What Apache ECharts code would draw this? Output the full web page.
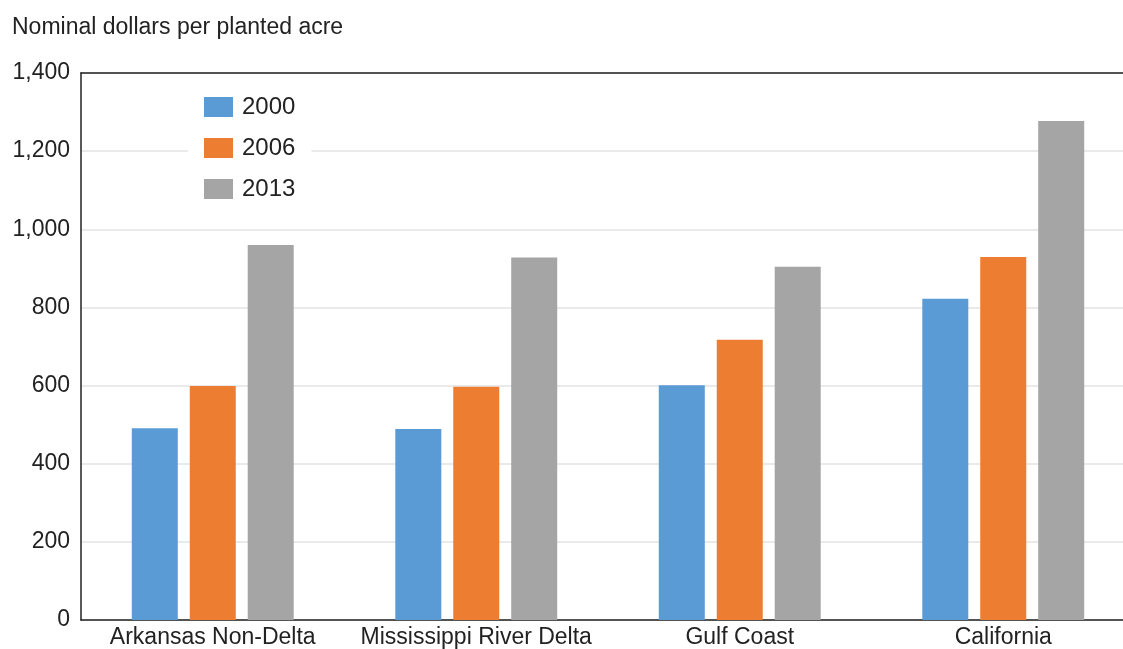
<!DOCTYPE html>
<html><head><meta charset="utf-8">
<script src="https://cdn.jsdelivr.net/npm/echarts@6/dist/echarts.min.js"></script>
<style>html,body{margin:0;padding:0;background:#fff;overflow:hidden;width:1123px;height:649px}#c{width:1135px;height:649px}</style>
</head><body><div id="c"></div>
<script>
var categories = ['Arkansas Non-Delta', 'Mississippi River Delta', 'Gulf Coast', 'California'];
var years = ['2000', '2006', '2013'];
var values2000 = [491, 489, 601, 822];
var values2006 = [599, 597, 717, 929];
var values2013 = [960, 928, 904, 1277];
var yTicks = [0, 200, 400, 600, 800, 1000, 1200, 1400];
var colors = ['#5B9BD5', '#ED7D31', '#A5A5A5'];
var font = 'Liberation Sans, Arial, sans-serif';

var chart = echarts.init(document.getElementById('c'));
var seriesData = [values2000, values2006, values2013];
chart.setOption({
  animation: false,
  color: colors,
  title: {
    text: 'Nominal dollars per planted acre',
    left: 7, top: 11,
    textStyle: {fontFamily: font, fontSize: 23, fontWeight: 'normal', color: '#222'}
  },
  legend: {
    orient: 'vertical',
    left: 188, top: 86,
    padding: [9, 16, 9, 16],
    itemWidth: 29, itemHeight: 20, itemGap: 17,
    backgroundColor: '#fff',
    icon: 'rect',
    textStyle: {fontFamily: font, fontSize: 24, color: '#222', padding: [2, 0, 0, 4]},
    data: years
  },
  grid: {left: 81, right: 0, top: 73, bottom: 29, containLabel: false},
  xAxis: [{
    type: 'category',
    data: categories,
    axisLine: {show: true, lineStyle: {color: '#222', width: 1.5}},
    axisTick: {show: false},
    axisLabel: {fontFamily: font, fontSize: 23, color: '#222', margin: 6, interval: 0}
  }, {
    type: 'category',
    position: 'top',
    data: categories,
    axisLine: {show: true, lineStyle: {color: '#222', width: 1.5}},
    axisTick: {show: false},
    axisLabel: {show: false}
  }],
  yAxis: {
    type: 'value',
    min: yTicks[0], max: yTicks[yTicks.length - 1], interval: 200,
    axisLine: {show: true, lineStyle: {color: '#222', width: 1.5}},
    axisTick: {show: false},
    axisLabel: {
      fontFamily: font, fontSize: 23, color: '#222', margin: 11,
      formatter: function (v) { return v.toLocaleString('en-US'); }
    },
    splitLine: {show: true, lineStyle: {color: '#e3e3e3', width: 1.5}}
  },
  series: years.map(function (y, i) {
    return {
      name: y, type: 'bar',
      data: seriesData[i],
      barWidth: 46, barGap: '26%',
      itemStyle: {color: colors[i]}
    };
  })
});
</script></body></html>
